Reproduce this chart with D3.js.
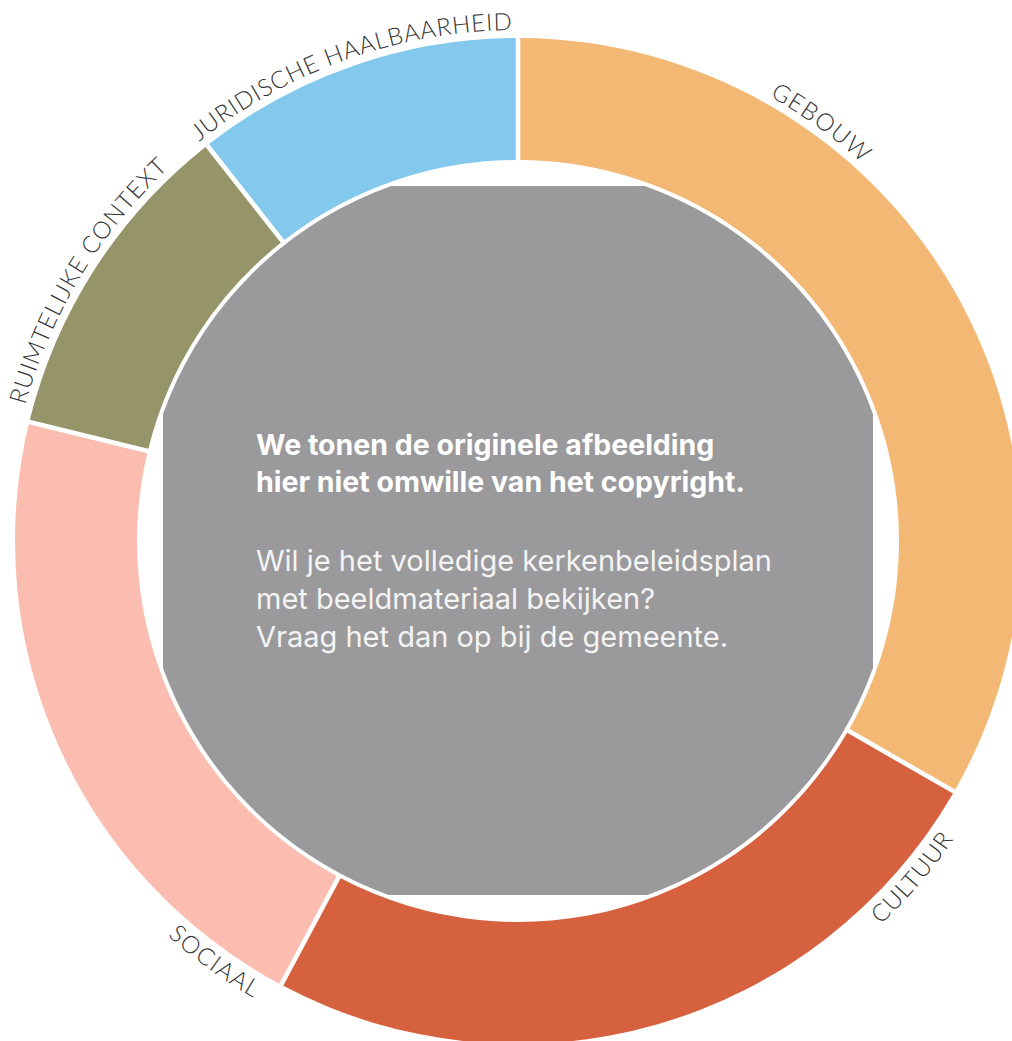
<!DOCTYPE html>
<html>
<head>
<meta charset="utf-8">
<script src="https://cdn.jsdelivr.net/npm/d3@7"></script>
<style>
  html, body { margin: 0; padding: 0; background: #ffffff; }
  svg { display: block; }
</style>
</head>
<body>
<svg id="chart" width="1012" height="1041"></svg>
<script>
// Themes of the church policy plan and their relative weight (%)
const categories = ["GEBOUW", "CULTUUR", "SOCIAAL", "RUIMTELIJKE CONTEXT", "JURIDISCHE HAALBAARHEID"];
const weights = [33.3, 24.5, 21.0, 10.6, 10.6];
const colors = ["#F3B874", "#D6613F", "#FABDAF", "#96956A", "#83C8ED"];

// Notice shown in the middle of the ring
const noticeBold = ["We tonen de originele afbeelding", "hier niet omwille van het copyright."];
const noticeRegular = ["Wil je het volledige kerkenbeleidsplan", "met beeldmateriaal bekijken?", "Vraag het dan op bij de gemeente."];

// Layout
const cx = 518, cy = 541;
const rOuter = 503, rInner = 381, rPhoto = 377, photoHalf = 355;
const deg = Math.PI / 180;
// Angular span (degrees clockwise from north) over which each label is set
const labelSpan = [[29.5, 42.3], [124.4, 136.6], [210.1, 221.6], [285.4, 316.8], [321.4, 359.3]];

const svg = d3.select("#chart");
const g = svg.append("g").attr("transform", `translate(${cx},${cy})`);

// Ring segments
const pie = d3.pie().sort(null).value(d => d).startAngle(0).endAngle(2 * Math.PI);
const arcs = pie(weights);
const arc = d3.arc()
  .innerRadius(rInner)
  .outerRadius(rOuter)
  .padRadius(500)
  .padAngle(4.6 / 500);

g.selectAll("path.segment")
  .data(arcs)
  .join("path")
  .attr("class", "segment")
  .attr("d", arc)
  .attr("fill", (d, i) => colors[i]);

// Placeholder photo in the centre: a square cropped to a circle
const defs = svg.append("defs");
defs.append("clipPath").attr("id", "photoClip")
  .append("circle").attr("cx", 0).attr("cy", 0).attr("r", rPhoto);

g.append("rect")
  .attr("x", -photoHalf).attr("y", -photoHalf)
  .attr("width", 2 * photoHalf).attr("height", 2 * photoHalf - 1)
  .attr("fill", "#9A999B")
  .attr("clip-path", "url(#photoClip)");

const notice = g.append("g")
  .attr("font-family", "Inter, 'Noto Sans', sans-serif")
  .attr("fill", "#ffffff");

notice.selectAll("text.bold")
  .data(noticeBold)
  .join("text")
  .attr("class", "bold")
  .attr("x", 256 - cx)
  .attr("y", (d, i) => 455 - cy + i * 37)
  .attr("font-size", 28.5)
  .attr("font-weight", 700)
  .text(d => d);

notice.selectAll("text.reg")
  .data(noticeRegular)
  .join("text")
  .attr("class", "reg")
  .attr("x", 256 - cx)
  .attr("y", (d, i) => 571 - cy + i * 38)
  .attr("font-size", 29)
  .attr("font-weight", 400)
  .attr("fill", "#f4f4f4")
  .text(d => d);

// Curved labels outside the ring; those on the lower half are flipped to stay readable
function labelPath(a0, a1, r, flip) {
  const p = d3.path();
  const s0 = a0 * deg - Math.PI / 2, s1 = a1 * deg - Math.PI / 2;
  if (!flip) {
    p.moveTo(r * Math.cos(s0), r * Math.sin(s0));
    p.arc(0, 0, r, s0, s1, false);
  } else {
    p.moveTo(r * Math.cos(s1), r * Math.sin(s1));
    p.arc(0, 0, r, s1, s0, true);
  }
  return p.toString();
}

categories.forEach((name, i) => {
  const [a0, a1] = labelSpan[i];
  const mid = (a0 + a1) / 2;
  const flip = mid > 90 && mid < 270;
  const r = flip ? 528 : 511;
  const id = "lbl" + i;
  defs.append("path").attr("id", id)
    .attr("d", labelPath(a0 - 0.2, a1 + 0.2, r, flip))
    .attr("transform", `translate(${cx},${cy})`);
  svg.append("text")
    .attr("font-family", "Lato, 'Open Sans', sans-serif")
    .attr("font-weight", 300)
    .attr("font-size", 24)
    .attr("fill", "#333333")
    .append("textPath")
    .attr("href", "#" + id)
    .attr("startOffset", 0.2 * deg * r)
    .attr("textLength", (a1 - a0) * deg * r)
    .attr("lengthAdjust", "spacing")
    .text(name);
});
</script>
</body>
</html>
